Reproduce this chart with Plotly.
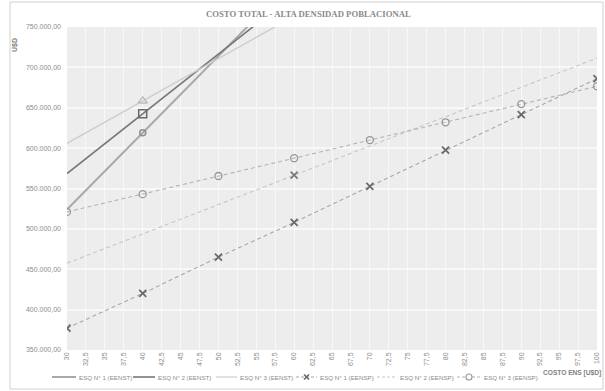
import plotly.graph_objects as go

# ENS cost axis (x) and total-cost series (USD)
x_eenst = [30, 40, 50, 60]
esq1_eenst = [524000, 619000, 714000, 809000]
esq2_eenst = [568500, 642500, 716500, 790500]
esq3_eenst = [606000, 658500, 711000, 763500]

x_eensp = [30, 40, 50, 60, 70, 80, 90, 100]
esq1_eensp = [377000, 420000, 465000, 508000, 552500, 597500, 641500, 686000]
esq3_eensp = [521000, 543000, 565500, 587500, 610000, 632000, 654500, 676500]

x_esq2_eensp = [30, 60, 100]
esq2_eensp = [457500, 566500, 711500]

x_ticks = [30 + 2.5 * i for i in range(29)]
x_tick_labels = ["30", "32,5", "35", "37,5", "40", "42,5", "45", "47,5", "50", "52,5",
                 "55", "57,5", "60", "62,5", "65", "67,5", "70", "72,5", "75", "77,5",
                 "80", "82,5", "85", "87,5", "90", "92,5", "95", "97,5", "100"]

FONT = "Liberation Sans Narrow, Liberation Sans, Arial"
TXT = "#8c8c8c"
DASH = "4px,3px"

# plot area in pixels: left 67, right 597, top 27, bottom 350
L, R, T, B = 67, 597, 27, 350
W, H = R - L, B - T


def px(x):
    return (x - L) / W


def py(y):
    return (B - y) / H


fig = go.Figure()

# EENST lines (solid), marker shown at x = 40
eenst = [
    ("ESQ N° 1 (EENST)", esq1_eenst, "#a9a9a9", "#8f8f8f", 2.0, "circle-open", 6),
    ("ESQ N° 2 (EENST)", esq2_eenst, "#777777", "#6a6a6a", 1.6, "square-open", 8),
    ("ESQ N° 3 (EENST)", esq3_eenst, "#cdcdcd", "#bdbdbd", 1.4, "triangle-up-open", 8),
]
for name, ys, col, mcol, w, sym, sz in eenst:
    fig.add_trace(go.Scatter(x=x_eenst, y=ys, mode="lines", name=name,
                             line=dict(color=col, width=w)))
for name, ys, col, mcol, w, sym, sz in eenst:
    i = x_eenst.index(40)
    fig.add_trace(go.Scatter(x=[x_eenst[i]], y=[ys[i]], mode="markers", name=name,
                             marker=dict(symbol=sym, size=sz, color=mcol,
                                         line=dict(color=mcol, width=1.5))))

# EENSP lines (dashed)
fig.add_trace(go.Scatter(x=x_eensp, y=esq1_eensp, mode="lines+markers",
                         name="ESQ N° 1 (EENSP)",
                         line=dict(color="#a8a8a8", width=1.1, dash=DASH),
                         marker=dict(symbol="x-thin-open", size=7, color="#6a6a6a",
                                     line=dict(color="#6a6a6a", width=1.8))))
fig.add_trace(go.Scatter(x=x_esq2_eensp, y=esq2_eensp, mode="lines",
                         name="ESQ N° 2 (EENSP)",
                         line=dict(color="#c6c6c6", width=1.1, dash=DASH)))
fig.add_trace(go.Scatter(x=[x_esq2_eensp[1]], y=[esq2_eensp[1]], mode="markers",
                         name="ESQ N° 2 (EENSP)",
                         marker=dict(symbol="x-thin-open", size=7, color="#7a7a7a",
                                     line=dict(color="#7a7a7a", width=1.8))))
fig.add_trace(go.Scatter(x=x_eensp, y=esq3_eensp, mode="lines+markers",
                         name="ESQ N° 3 (EENSP)",
                         line=dict(color="#b4b4b4", width=1.1, dash=DASH),
                         marker=dict(symbol="circle-open", size=7, color="#979797",
                                     line=dict(color="#979797", width=1.3))))

# Compact legend row drawn below the axis: (label, x of sample start, sample length,
# line colour, width, dash, marker kind, marker colour)
legend_items = [
    ("ESQ N° 1 (EENST)", 52, 24, "#a9a9a9", 2.0, "solid", None, None),
    ("ESQ N° 2 (EENST)", 133, 22, "#777777", 1.6, "solid", None, None),
    ("ESQ N° 3 (EENST)", 216, 21, "#cdcdcd", 1.2, "solid", None, None),
    ("ESQ N° 1 (EENSP)", 296, 21, "#a8a8a8", 1.1, "dash", "x", "#6a6a6a"),
    ("ESQ N° 2 (EENSP)", 377, 20, "#c6c6c6", 1.1, "dash", None, None),
    ("ESQ N° 3 (EENSP)", 457, 24, "#b4b4b4", 1.1, "dash", "o", "#979797"),
]
LEG_Y = 377
shapes = [
    dict(type="rect", xref="paper", yref="paper", x0=px(10), x1=px(603),
         y0=py(389), y1=py(2), line=dict(color="#d0d0d0", width=1),
         fillcolor="rgba(0,0,0,0)", layer="below"),
]
annotations = []
for label, x0, ln, col, w, dash, mk, mcol in legend_items:
    shapes.append(dict(type="line", xref="paper", yref="paper", x0=px(x0),
                       x1=px(x0 + ln), y0=py(LEG_Y), y1=py(LEG_Y),
                       line=dict(color=col, width=w, dash="3px,2px" if dash == "dash" else "solid")))
    cx = x0 + ln / 2
    if mk == "x":
        for d in (1, -1):
            shapes.append(dict(type="line", xref="paper", yref="paper",
                               x0=px(cx - 2.5), x1=px(cx + 2.5),
                               y0=py(LEG_Y - 2.5 * d), y1=py(LEG_Y + 2.5 * d),
                               line=dict(color=mcol, width=1.6)))
    elif mk == "o":
        shapes.append(dict(type="circle", xref="paper", yref="paper",
                           x0=px(cx - 3), x1=px(cx + 3), y0=py(LEG_Y + 3),
                           y1=py(LEG_Y - 3), fillcolor="#ffffff",
                           line=dict(color=mcol, width=1.1)))
    annotations.append(dict(text=label, xref="paper", yref="paper", x=px(x0 + ln + 1),
                            y=py(LEG_Y), xanchor="left", yanchor="middle",
                            showarrow=False, font=dict(size=6.2, color=TXT)))

annotations += [
    dict(text="<b>COSTO TOTAL - ALTA DENSIDAD POBLACIONAL</b>", xref="paper",
         yref="paper", x=px(308), y=py(14), xanchor="center", yanchor="middle",
         showarrow=False,
         font=dict(family="Liberation Serif, DejaVu Serif", size=8.7, color="#8a8a8a")),
    dict(text="<b>U$D</b>", xref="paper", yref="paper", x=px(15), y=py(45),
         textangle=-90, xanchor="center", yanchor="middle", showarrow=False,
         font=dict(size=7, color="#7f7f7f")),
    dict(text="<b>COSTO ENS [U$D]</b>", xref="paper", yref="paper", x=px(603),
         y=py(373), xanchor="right", yanchor="middle", showarrow=False,
         font=dict(size=6.6, color="#7f7f7f")),
]

fig.update_layout(
    width=605, height=391,
    margin=dict(l=L, r=605 - R, t=T, b=391 - B, autoexpand=False),
    paper_bgcolor="#ffffff",
    plot_bgcolor="#ededed",
    separators=",.",
    font=dict(family=FONT, size=8, color=TXT),
    showlegend=False,
    xaxis=dict(range=[30, 100], tickmode="array", tickvals=x_ticks,
               ticktext=x_tick_labels, tickangle=-90, showgrid=True,
               gridcolor="#f8f8f8", gridwidth=1, zeroline=False, showline=False,
               ticks="", tickfont=dict(size=7, color=TXT)),
    yaxis=dict(range=[350000, 750000], dtick=50000, tickformat=",.2f",
               showgrid=True, gridcolor="#f8f8f8", gridwidth=1.6, zeroline=False,
               showline=False, ticks="", ticklabelstandoff=5,
               tickfont=dict(size=7, color=TXT)),
    annotations=annotations,
    shapes=shapes,
)

fig.write_html("out.html")
